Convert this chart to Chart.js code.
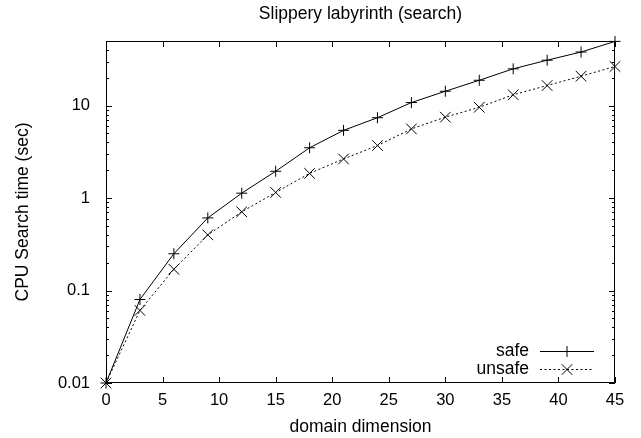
<!DOCTYPE html>
<html>
<head>
<meta charset="utf-8">
<script src="https://cdn.jsdelivr.net/npm/chart.js@4/dist/chart.umd.min.js"></script>
<style>
  html, body { margin: 0; padding: 0; background: #fff; }
  #wrap { width: 641px; height: 438px; }
</style>
</head>
<body>
<div id="wrap"><canvas id="chart"></canvas></div>
<script>
// data
const dims = [0, 3, 6, 9, 12, 15, 18, 21, 24, 27, 30, 33, 36, 39, 42, 45];
const safeTimes = [0.01, 0.08, 0.25, 0.61, 1.13, 1.95, 3.5, 5.4, 7.4, 10.8, 14.3, 18.8, 25, 31, 38, 49.5];
const unsafeTimes = [0.01, 0.061, 0.17, 0.40, 0.71, 1.15, 1.85, 2.65, 3.7, 5.6, 7.5, 9.6, 13.1, 16.5, 20.8, 26.5];
const yTickValues = [0.01, 0.1, 1, 10];
const xTickStep = 5;
const chartTitle = "Slippery labyrinth (search)";

const FONT = "'Liberation Sans', Arial, sans-serif";

function toPoints(xs, ys) {
    return xs.map((x, i) => ({ x: x, y: ys[i] }));
}

// gnuplot-ish frame: title over the plot, border, inward ticks, key in the lower right
const frame = {
    id: "frame",
    afterDraw(chart) {
        const { ctx, chartArea: a, scales } = chart;
        const xs = scales.x, ys = scales.y;
        ctx.save();
        ctx.fillStyle = "#000";
        ctx.font = "17.5px " + FONT;
        ctx.textAlign = "center";
        ctx.textBaseline = "middle";
        ctx.fillText(chartTitle, (a.left + a.right) / 2, 14);

        ctx.strokeStyle = "#000";
        ctx.lineWidth = 1;
        ctx.beginPath();
        ctx.rect(a.left + 0.5, a.top + 0.5, a.right - a.left - 1, a.bottom - a.top - 1);
        ctx.stroke();

        ctx.beginPath();
        for (let v = xs.min; v <= xs.max; v += xTickStep) {
            const px = Math.round(xs.getPixelForValue(v)) + 0.5;
            ctx.moveTo(px, a.bottom); ctx.lineTo(px, a.bottom - 6);
            ctx.moveTo(px, a.top); ctx.lineTo(px, a.top + 6);
        }
        for (let d = ys.min; d <= ys.max * 1.0001; d *= 10) {
            for (let m = 1; m <= 9; m++) {
                const v = d * m;
                if (v > ys.max * 1.0001) break;
                const py = Math.round(ys.getPixelForValue(v)) + 0.5;
                const len = m === 1 ? 6 : 3;
                ctx.moveTo(a.left, py); ctx.lineTo(a.left + len, py);
                ctx.moveTo(a.right, py); ctx.lineTo(a.right - len, py);
            }
        }
        ctx.stroke();

        // key
        ctx.textAlign = "right";
        chart.data.datasets.forEach((ds, i) => {
            const y = a.bottom - 32 + i * 18;
            ctx.fillText(ds.label, a.right - 86, y);
            ctx.save();
            ctx.setLineDash(ds.borderDash || []);
            ctx.beginPath();
            ctx.moveTo(a.right - 75, y + 0.5);
            ctx.lineTo(a.right - 21, y + 0.5);
            ctx.stroke();
            ctx.restore();
            Chart.helpers.drawPoint(ctx, {
                pointStyle: ds.pointStyle, radius: ds.pointRadius,
                borderWidth: 1, rotation: 0
            }, a.right - 48, y + 0.5);
        });
        ctx.restore();
    }
};

new Chart(document.getElementById("chart"), {
    type: "line",
    data: {
        datasets: [
            {
                label: "safe",
                data: toPoints(dims, safeTimes),
                borderColor: "#000",
                borderWidth: 1,
                pointStyle: "cross",
                pointRadius: 5.5,
                pointBorderColor: "#000",
                pointBorderWidth: 1,
                fill: false,
                tension: 0
            },
            {
                label: "unsafe",
                data: toPoints(dims, unsafeTimes),
                borderColor: "#000",
                borderWidth: 1,
                borderDash: [2, 2.5],
                pointStyle: "crossRot",
                pointRadius: 7.5,
                pointBorderColor: "#000",
                pointBorderWidth: 1,
                fill: false,
                tension: 0
            }
        ]
    },
    options: {
        responsive: true,
        maintainAspectRatio: false,
        animation: false,
        clip: false,
        layout: { padding: { left: 0, right: 26, top: 41, bottom: 0 } },
        plugins: {
            legend: { display: false },
            tooltip: { enabled: false },
            title: { display: false }
        },
        scales: {
            x: {
                type: "linear",
                min: 0,
                max: 45,
                grid: { display: false, drawTicks: false },
                border: { display: false },
                ticks: {
                    stepSize: xTickStep, autoSkip: false, maxRotation: 0,
                    color: "#000", padding: 8,
                    font: { family: FONT, size: 16.5 }
                },
                title: {
                    display: true, text: "domain dimension", color: "#000",
                    font: { family: FONT, size: 17.5 },
                    padding: { top: 0, bottom: 0 }
                },
                afterFit(scale) { scale.height = 55; }
            },
            y: {
                type: "logarithmic",
                min: 0.01,
                max: 50,
                grid: { display: false, drawTicks: false },
                border: { display: false },
                afterBuildTicks(scale) {
                    scale.ticks = yTickValues.map(v => ({ value: v }));
                },
                ticks: {
                    color: "#000", padding: 16,
                    font: { family: FONT, size: 16.5 },
                    callback: (v) => String(v)
                },
                title: {
                    display: true, text: "CPU Search time (sec)", color: "#000",
                    font: { family: FONT, size: 17.5 },
                    padding: { top: 13, bottom: 0 }
                },
                afterFit(scale) { scale.width = 106; }
            }
        }
    },
    plugins: [frame]
});
</script>
</body>
</html>
